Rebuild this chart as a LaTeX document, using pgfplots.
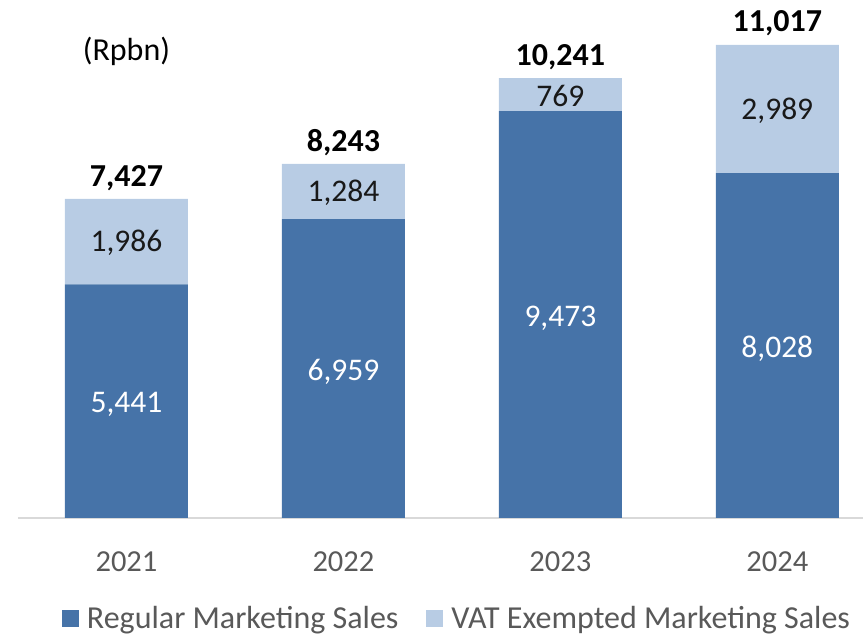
\documentclass[border=0pt]{standalone}
\usepackage{fontspec}
\setmainfont{Carlito}
\usepackage{pgfplots}
\pgfplotsset{compat=1.18}
\definecolor{darkb}{HTML}{4673A8}
\definecolor{lightb}{HTML}{B8CCE4}
\definecolor{axgray}{HTML}{D9D9D9}
\definecolor{txtgray}{HTML}{595959}
\tikzset{vl/.style={font=\fontsize{31.5}{36}\selectfont},
  tl/.style={font=\fontsize{32}{36}\selectfont\bfseries, anchor=south, yshift=5pt}}
\begin{document}
\begin{tikzpicture}
\begin{axis}[
  scale only axis, width=845pt, height=518pt,
  ybar stacked, bar width=0.567,
  xmin=-0.5, xmax=3.395, ymin=0, ymax=12060,
  axis y line=none, axis x line*=bottom,
  x axis line style={axgray, line width=1.2pt, -},
  xtick=data, xticklabels={2021,2022,2023,2024},
  major tick length=0pt,
  xticklabel style={font=\fontsize{30.5}{36}\selectfont, text=txtgray, yshift=-30pt},
  legend style={at={(0.5195,-0.193)}, anchor=center, draw=none,
    font=\fontsize{32}{36}\selectfont, text=txtgray,
    /tikz/every odd column/.append style={column sep=6pt},
    /tikz/every even column/.append style={column sep=26pt}},
  legend columns=2,
  legend image code/.code={\fill[#1] (0pt,-9pt) rectangle (17pt,8pt);},
  clip=false,
]
\addplot[fill=darkb, draw=none] coordinates {(0,5441) (1,6959) (2,9473) (3,8028)};
\addplot[fill=lightb, draw=none] coordinates {(0,1986) (1,1284) (2,769) (3,2989)};
\legend{Regular Marketing Sales, VAT Exempted Marketing Sales}
\coordinate (bl) at (rel axis cs:0,0);
\coordinate (tr) at (rel axis cs:1,1);
\coordinate (a1) at (axis cs:0,2640);
\coordinate (a2) at (axis cs:1,3400);
\coordinate (a3) at (axis cs:2,4660);
\coordinate (a4) at (axis cs:3,3940);
\coordinate (b1) at (axis cs:0,6400);
\coordinate (b2) at (axis cs:1,7570);
\coordinate (b3) at (axis cs:2,9820);
\coordinate (b4) at (axis cs:3,9480);
\coordinate (t1) at (axis cs:0,7427);
\coordinate (t2) at (axis cs:1,8243);
\coordinate (t3) at (axis cs:2,10241);
\coordinate (t4) at (axis cs:3,11017);
\coordinate (u) at (axis cs:0,10860);
\end{axis}
\node[vl, white] at (a1) {5,441};
\node[vl, white] at (a2) {6,959};
\node[vl, white] at (a3) {9,473};
\node[vl, white] at (a4) {8,028};
\node[vl, text=black!90] at (b1) {1,986};
\node[vl, text=black!90] at (b2) {1,284};
\node[vl, text=black!90] at (b3) {769};
\node[vl, text=black!90] at (b4) {2,989};
\node[tl] at (t1) {7,427};
\node[tl] at (t2) {8,243};
\node[tl] at (t3) {10,241};
\node[tl] at (t4) {11,017};
\node[font=\fontsize{32}{36}\selectfont] at (u) {(Rpbn)};
\pgfresetboundingbox
\path (bl) ++(-18pt,-119pt) rectangle (tr);
\end{tikzpicture}
\end{document}
